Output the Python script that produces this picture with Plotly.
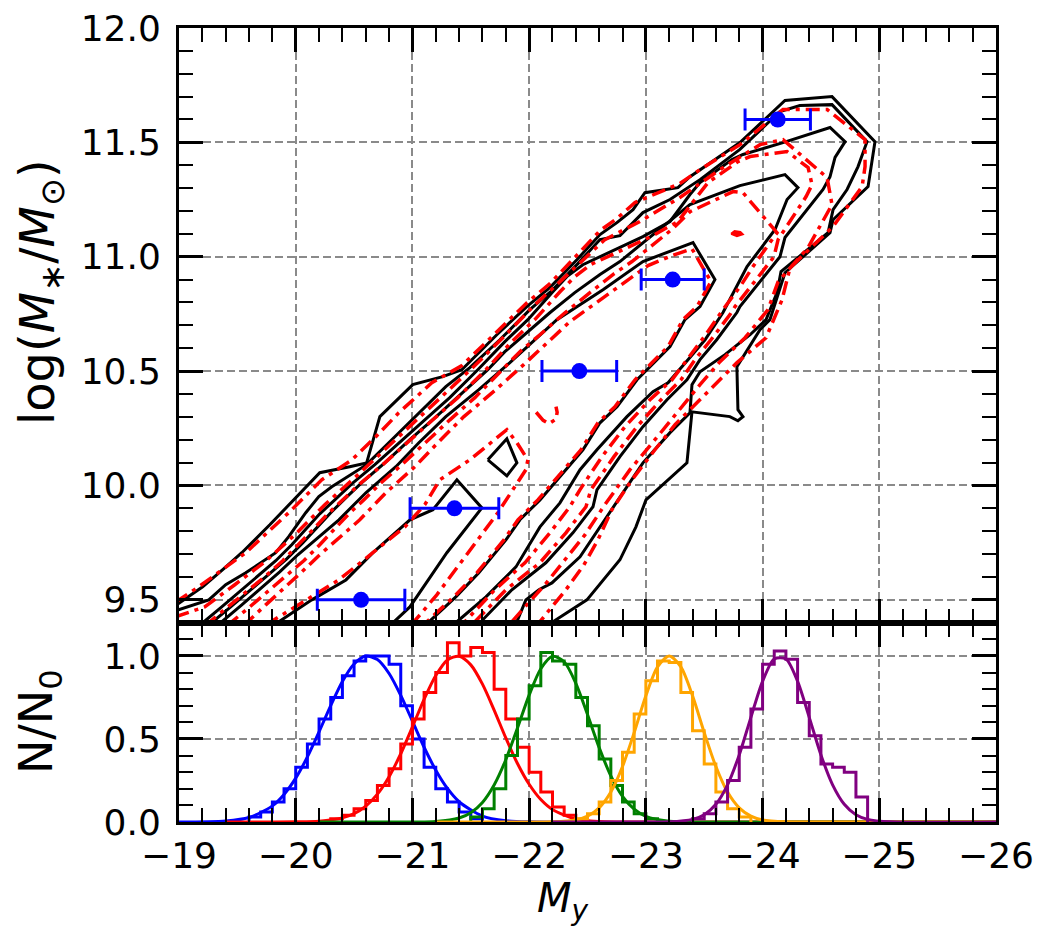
import plotly.graph_objects as go

# ---------------- top panel: contour lines ----------------
# black solid contours (outer -> inner)
b1 = [(-18.97, 9.475), (-19.203, 9.557), (-19.392, 9.640), (-19.538, 9.706), (-19.778, 9.828), (-20.009, 9.951),
      (-20.206, 10.056), (-20.463, 10.082), (-20.607, 10.098), (-20.721, 10.301), (-21.003, 10.441), (-21.260, 10.476),
      (-21.423, 10.506), (-21.723, 10.659), (-21.980, 10.782), (-22.177, 10.865), (-22.409, 10.987), (-22.607, 11.097),
      (-22.752, 11.149), (-22.890, 11.206), (-22.992, 11.280), (-23.275, 11.302), (-23.378, 11.350), (-23.806, 11.499),
      (-23.952, 11.569), (-24.192, 11.683), (-24.595, 11.700), (-24.963, 11.503), (-24.904, 11.307), (-24.604, 11.162),
      (-24.578, 11.105), (-24.192, 10.930), (-24.063, 10.725), (-23.978, 10.681), (-23.780, 10.519), (-23.789, 10.331),
      (-23.832, 10.301), (-23.789, 10.283), (-23.720, 10.301), (-23.395, 10.322), (-23.352, 10.099), (-23.001, 9.937),
      (-22.915, 9.819), (-22.778, 9.675), (-22.495, 9.500), (-22.203, 9.404), (-22.15, 9.37)]
b2 = [(-18.97, 9.452), (-19.255, 9.500), (-19.400, 9.566), (-19.572, 9.618), (-19.829, 9.706), (-19.940, 9.776),
      (-20.086, 9.881), (-20.198, 9.951), (-20.309, 9.994), (-20.607, 10.091), (-20.823, 10.200), (-21.055, 10.318),
      (-21.286, 10.432), (-21.492, 10.515), (-21.749, 10.637), (-22.006, 10.769), (-22.195, 10.852), (-22.418, 10.970),
      (-22.607, 11.075), (-22.778, 11.092), (-22.975, 11.193), (-23.207, 11.250), (-23.464, 11.337), (-23.806, 11.469),
      (-24.149, 11.635), (-24.320, 11.661), (-24.595, 11.665), (-24.895, 11.503), (-24.818, 11.394), (-24.724, 11.294),
      (-24.604, 11.206), (-24.561, 11.105), (-24.158, 10.935), (-24.124, 10.843), (-24.030, 10.725), (-23.893, 10.659),
      (-23.678, 10.572), (-23.464, 10.497), (-23.395, 10.440), (-23.378, 10.318), (-23.207, 10.231), (-22.975, 10.099),
      (-22.547, 9.776), (-22.436, 9.688), (-22.195, 9.574), (-22.084, 9.544), (-21.972, 9.500), (-21.895, 9.404),
      (-21.88, 9.37)]
b3 = [(-19.19, 9.385), (-19.213, 9.404), (-19.366, 9.469), (-19.520, 9.535), (-19.675, 9.601), (-19.829, 9.671),
      (-19.966, 9.741), (-20.078, 9.806), (-20.206, 9.876), (-20.335, 9.937), (-20.480, 10.007), (-20.678, 10.091),
      (-20.892, 10.191), (-21.106, 10.287), (-21.320, 10.384), (-21.560, 10.506), (-21.792, 10.629), (-21.989, 10.725),
      (-22.203, 10.847), (-22.323, 10.913), (-22.460, 10.965), (-22.607, 11.000), (-22.804, 11.044), (-22.975, 11.088),
      (-23.207, 11.154), (-23.378, 11.272), (-23.464, 11.324), (-23.738, 11.425), (-23.832, 11.447), (-24.175, 11.499),
      (-24.578, 11.565), (-24.707, 11.503), (-24.621, 11.434), (-24.578, 11.350), (-24.518, 11.294), (-24.192, 11.084),
      (-24.149, 11.000), (-23.806, 10.782), (-23.780, 10.756), (-23.607, 10.637), (-23.464, 10.550), (-23.352, 10.462),
      (-23.181, 10.375), (-22.975, 10.257), (-22.778, 10.126), (-22.581, 9.981), (-22.547, 9.907), (-22.375, 9.793),
      (-22.143, 9.662), (-21.852, 9.544), (-21.586, 9.404), (-21.56, 9.38)]
b4 = [(-19.27, 9.385), (-19.289, 9.404), (-19.443, 9.469), (-19.606, 9.539), (-19.760, 9.605), (-19.923, 9.679),
      (-20.060, 9.749), (-20.180, 9.815), (-20.300, 9.881), (-20.429, 9.946), (-20.566, 10.012), (-20.763, 10.099),
      (-20.978, 10.200), (-21.192, 10.296), (-21.406, 10.397), (-21.646, 10.506), (-21.792, 10.585), (-21.963, 10.659),
      (-22.177, 10.755), (-22.391, 10.843), (-22.607, 10.922), (-22.778, 10.979), (-22.975, 11.062), (-23.147, 11.132),
      (-23.378, 11.228), (-23.806, 11.311), (-24.192, 11.359), (-24.303, 11.302), (-24.210, 11.250), (-24.107, 11.119),
      (-23.867, 10.957), (-23.661, 10.756), (-23.507, 10.637), (-23.361, 10.550), (-23.190, 10.449), (-23.061, 10.410),
      (-22.838, 10.301), (-22.581, 10.156), (-22.436, 10.069), (-22.264, 9.924), (-22.093, 9.819), (-21.887, 9.644),
      (-21.630, 9.513), (-21.381, 9.404), (-21.36, 9.38)]
b5 = [(-19.34, 9.385), (-19.366, 9.404), (-19.538, 9.478), (-19.709, 9.552), (-19.863, 9.622), (-20.018, 9.697),
      (-20.198, 9.776), (-20.370, 9.850), (-20.601, 9.968), (-20.858, 10.082), (-21.055, 10.187), (-21.286, 10.301),
      (-21.569, 10.419), (-21.835, 10.537), (-22.238, 10.725), (-22.633, 10.856), (-22.975, 10.979), (-23.207, 11.022),
      (-23.404, 11.062), (-23.592, 10.900), (-23.464, 10.782), (-23.335, 10.725), (-23.207, 10.607), (-23.010, 10.506),
      (-22.924, 10.462), (-22.753, 10.344), (-22.607, 10.274), (-22.461, 10.156), (-22.238, 10.025), (-22.093, 9.937),
      (-21.921, 9.850), (-21.801, 9.762), (-21.569, 9.618), (-21.372, 9.513), (-21.141, 9.404), (-21.12, 9.38)]
b6 = [(-19.83, 9.38), (-19.855, 9.404), (-20.138, 9.500), (-20.430, 9.587), (-20.662, 9.706), (-20.979, 9.850),
      (-21.176, 9.894), (-21.381, 10.025), (-21.595, 9.902), (-21.295, 9.706), (-20.978, 9.469), (-20.841, 9.404),
      (-20.82, 9.38)]
b_island = [(-21.646, 10.112), (-21.809, 10.204), (-21.895, 10.099), (-21.809, 10.042), (-21.646, 10.112)]

# red dash-dot contours (outer -> inner)
r1 = [(-18.97, 9.49), (-19.169, 9.557), (-19.572, 9.706), (-19.940, 9.881), (-20.223, 10.025), (-20.481, 10.112),
      (-20.686, 10.213), (-20.883, 10.318), (-21.166, 10.449), (-21.424, 10.524), (-21.724, 10.672), (-21.981, 10.799),
      (-22.178, 10.882), (-22.409, 11.005), (-22.607, 11.114), (-22.752, 11.167), (-22.907, 11.237), (-23.292, 11.320),
      (-23.464, 11.381), (-23.807, 11.490), (-24.175, 11.644), (-24.553, 11.644), (-24.878, 11.512), (-24.878, 11.394),
      (-24.853, 11.307), (-24.604, 11.132), (-24.235, 10.952), (-24.167, 10.812), (-24.030, 10.646), (-23.781, 10.537),
      (-23.464, 10.375), (-23.250, 10.266), (-23.078, 10.156), (-22.881, 10.025), (-22.709, 9.894), (-22.589, 9.762),
      (-22.469, 9.653), (-22.315, 9.544), (-22.161, 9.448), (-22.092, 9.404), (-22.07, 9.38)]
r2 = [(-18.97, 9.426), (-19.220, 9.469), (-19.478, 9.566), (-19.735, 9.666), (-19.992, 9.784), (-20.249, 9.916),
      (-20.506, 10.034), (-20.763, 10.156), (-21.021, 10.279), (-21.278, 10.401), (-21.535, 10.524), (-21.792, 10.655),
      (-22.049, 10.790), (-22.264, 10.891), (-22.478, 10.996), (-22.649, 11.075), (-22.949, 11.154), (-23.292, 11.259),
      (-23.635, 11.381), (-23.978, 11.490), (-24.175, 11.512), (-24.553, 11.346), (-24.595, 11.228), (-24.390, 11.040),
      (-24.133, 10.891), (-24.047, 10.769), (-23.850, 10.646), (-23.635, 10.541), (-23.464, 10.441), (-23.292, 10.331),
      (-23.078, 10.200), (-22.864, 10.069), (-22.649, 9.916), (-22.478, 9.784), (-22.307, 9.675), (-22.135, 9.566),
      (-21.964, 9.469), (-21.852, 9.404), (-21.83, 9.38)]
r3 = [(-19.24, 9.38), (-19.263, 9.404), (-19.418, 9.469), (-19.580, 9.535), (-19.735, 9.601), (-19.889, 9.671),
      (-20.026, 9.741), (-20.146, 9.806), (-20.275, 9.876), (-20.403, 9.937), (-20.549, 10.007), (-20.746, 10.091),
      (-20.961, 10.191), (-21.175, 10.287), (-21.389, 10.384), (-21.629, 10.506), (-21.852, 10.629), (-22.049, 10.725),
      (-22.264, 10.847), (-22.392, 10.913), (-22.529, 10.966), (-22.675, 11.000), (-22.872, 11.044), (-23.044, 11.088),
      (-23.275, 11.154), (-23.447, 11.272), (-23.532, 11.324), (-23.790, 11.416), (-23.893, 11.438), (-24.210, 11.460),
      (-24.390, 11.390), (-24.424, 11.315), (-24.373, 11.263), (-24.133, 11.075), (-24.098, 11.000), (-23.764, 10.782),
      (-23.721, 10.747), (-23.558, 10.637), (-23.421, 10.550), (-23.301, 10.462), (-23.130, 10.375), (-22.924, 10.257),
      (-22.727, 10.126), (-22.529, 9.981), (-22.487, 9.907), (-22.315, 9.793), (-22.092, 9.662), (-21.801, 9.544),
      (-21.535, 9.404), (-21.51, 9.38)]
r4 = [(-19.43, 9.38), (-19.452, 9.404), (-19.606, 9.469), (-19.760, 9.535), (-19.915, 9.601), (-20.069, 9.671),
      (-20.206, 9.741), (-20.326, 9.806), (-20.455, 9.876), (-20.583, 9.937), (-20.721, 10.007), (-20.909, 10.091),
      (-21.115, 10.191), (-21.321, 10.287), (-21.535, 10.384), (-21.766, 10.506), (-21.921, 10.585), (-22.092, 10.659),
      (-22.307, 10.755), (-22.521, 10.843), (-22.718, 10.922), (-22.881, 10.979), (-23.078, 11.062), (-23.232, 11.123),
      (-23.378, 11.197), (-23.747, 11.285), (-23.832, 11.280), (-24.124, 11.105), (-24.038, 11.044), (-23.918, 10.957),
      (-23.807, 10.869), (-23.661, 10.769), (-23.507, 10.655), (-23.378, 10.567), (-23.224, 10.462), (-23.035, 10.375),
      (-22.821, 10.257), (-22.624, 10.126), (-22.435, 9.981), (-22.349, 9.907), (-22.178, 9.793), (-21.964, 9.662),
      (-21.706, 9.544), (-21.449, 9.404), (-21.43, 9.38)]
r5 = [(-19.57, 9.38), (-19.589, 9.404), (-19.743, 9.478), (-19.906, 9.552), (-20.052, 9.622), (-20.206, 9.697),
      (-20.378, 9.776), (-20.549, 9.850), (-20.772, 9.968), (-21.021, 10.082), (-21.218, 10.187), (-21.441, 10.301),
      (-21.715, 10.419), (-21.972, 10.537), (-22.349, 10.716), (-22.709, 10.847), (-23.018, 10.961), (-23.224, 11.005),
      (-23.395, 11.035), (-23.558, 10.891), (-23.438, 10.782), (-23.318, 10.725), (-23.190, 10.607), (-22.992, 10.506),
      (-22.907, 10.462), (-22.735, 10.344), (-22.589, 10.274), (-22.444, 10.156), (-22.221, 10.025), (-22.075, 9.937),
      (-21.904, 9.850), (-21.784, 9.762), (-21.552, 9.618), (-21.355, 9.513), (-21.123, 9.404), (-21.10, 9.38)]
r6 = [(-19.77, 9.38), (-19.786, 9.404), (-20.052, 9.487), (-20.369, 9.587), (-20.661, 9.706), (-20.935, 9.819),
      (-21.106, 9.916), (-21.235, 10.025), (-21.492, 10.112), (-21.809, 10.244), (-21.895, 10.187), (-21.989, 10.112),
      (-21.972, 10.069), (-21.732, 9.881), (-21.604, 9.793), (-21.466, 9.697), (-21.338, 9.609), (-21.209, 9.522),
      (-21.064, 9.434), (-21.012, 9.404), (-21.00, 9.38)]
r_hook = [(-22.06, 10.32), (-22.12, 10.285), (-22.17, 10.27), (-22.23, 10.29), (-22.24, 10.32), (-22.23, 10.345)]
r_blob = [(-23.73, 11.100), (-23.76, 11.112), (-23.81, 11.108), (-23.83, 11.098), (-23.78, 11.090), (-23.73, 11.100)]

# blue points with horizontal error bars
pt_x = [-20.56, -21.36, -22.43, -23.23, -24.13]
pt_y = [9.5, 9.9, 10.5, 10.9, 11.6]
pt_xerr = [0.375, 0.38, 0.32, 0.27, 0.28]

# ---------------- bottom panel: normalised histograms and fitted curves ----------------
blue_edges = [-19.6, -19.7, -19.8, -19.9, -20.0, -20.1, -20.2, -20.3, -20.4, -20.5, -20.6, -20.7, -20.8, -20.9,
              -21.0, -21.1, -21.2, -21.3, -21.4, -21.5, -21.6]
blue_hist = [0.03, 0.06, 0.12, 0.20, 0.33, 0.47, 0.62, 0.75, 0.88, 0.97, 1.00, 1.00, 0.95, 0.70, 0.50, 0.33, 0.20,
             0.12, 0.06, 0.02]
red_edges = [-20.3, -20.4, -20.5, -20.6, -20.7, -20.8, -20.9, -21.0, -21.1, -21.2, -21.3, -21.4, -21.5, -21.6,
             -21.7, -21.8, -21.9, -22.0, -22.1, -22.2, -22.3, -22.4, -22.5]
red_hist = [0.02, 0.04, 0.08, 0.13, 0.22, 0.32, 0.47, 0.62, 0.78, 0.90, 1.08, 1.00, 1.05, 1.02, 0.80, 0.62, 0.45,
            0.30, 0.18, 0.09, 0.04, 0.01]
green_edges = [-21.5, -21.6, -21.7, -21.8, -21.9, -22.0, -22.1, -22.2, -22.3, -22.4, -22.5, -22.6, -22.7, -22.8,
               -22.9, -23.0, -23.1]
green_hist = [0.03, 0.08, 0.20, 0.40, 0.62, 0.82, 1.02, 0.97, 0.95, 0.75, 0.58, 0.38, 0.22, 0.12, 0.05, 0.02]
orange_edges = [-22.4, -22.5, -22.6, -22.7, -22.8, -22.9, -23.0, -23.1, -23.2, -23.3, -23.4, -23.5, -23.6, -23.7,
                -23.8, -23.9]
orange_hist = [0.02, 0.05, 0.12, 0.25, 0.42, 0.65, 0.85, 0.97, 0.96, 0.78, 0.55, 0.35, 0.18, 0.08, 0.03]
purple_edges = [-23.4, -23.5, -23.6, -23.7, -23.8, -23.9, -24.0, -24.1, -24.2, -24.3, -24.4, -24.5, -24.6, -24.7,
                -24.8, -24.9]
purple_hist = [0.02, 0.05, 0.12, 0.25, 0.45, 0.68, 0.95, 1.03, 0.98, 0.72, 0.52, 0.35, 0.33, 0.30, 0.15]

blue_curve_x = [-19.0, -19.4, -19.6, -19.8, -19.9, -20.0, -20.1, -20.2, -20.3, -20.4, -20.5, -20.6, -20.7, -20.8,
                -20.9, -21.0, -21.1, -21.2, -21.3, -21.4, -21.6, -21.8, -22.0, -26.0]
blue_curve_y = [0.0, 0.006, 0.027, 0.097, 0.166, 0.264, 0.392, 0.543, 0.701, 0.846, 0.951, 0.999, 0.978, 0.894,
                0.762, 0.607, 0.450, 0.312, 0.202, 0.122, 0.036, 0.008, 0.001, 0.0]
red_curve_x = [-19.4, -20.0, -20.2, -20.4, -20.5, -20.6, -20.7, -20.8, -20.9, -21.0, -21.1, -21.2, -21.3, -21.4,
               -21.5, -21.6, -21.7, -21.8, -21.9, -22.0, -22.1, -22.2, -22.4, -22.6, -23.0, -26.0]
red_curve_y = [0.0, 0.001, 0.005, 0.025, 0.050, 0.096, 0.168, 0.273, 0.411, 0.573, 0.739, 0.882, 0.976, 0.998,
               0.946, 0.830, 0.674, 0.506, 0.352, 0.227, 0.135, 0.075, 0.018, 0.003, 0.0, 0.0]
green_curve_x = [-20.2, -21.0, -21.2, -21.4, -21.5, -21.6, -21.7, -21.8, -21.9, -22.0, -22.1, -22.2, -22.3, -22.4,
                 -22.5, -22.6, -22.7, -22.8, -22.9, -23.0, -23.2, -23.5, -26.0]
green_curve_y = [0.0, 0.0, 0.003, 0.024, 0.056, 0.118, 0.223, 0.375, 0.566, 0.764, 0.923, 0.998, 0.965, 0.835,
                 0.647, 0.448, 0.278, 0.154, 0.077, 0.034, 0.005, 0.0, 0.0]
orange_curve_x = [-21.2, -22.0, -22.2, -22.4, -22.5, -22.6, -22.7, -22.8, -22.9, -23.0, -23.1, -23.2, -23.3, -23.4,
                  -23.5, -23.6, -23.7, -23.8, -23.9, -24.0, -24.2, -24.5, -26.0]
orange_curve_y = [0.0, 0.0, 0.001, 0.012, 0.035, 0.085, 0.180, 0.334, 0.539, 0.760, 0.934, 1.0, 0.934, 0.760,
                  0.539, 0.334, 0.180, 0.085, 0.035, 0.012, 0.001, 0.0, 0.0]
purple_curve_x = [-22.2, -23.0, -23.2, -23.4, -23.5, -23.6, -23.7, -23.8, -23.9, -24.0, -24.1, -24.2, -24.3, -24.4,
                  -24.5, -24.6, -24.7, -24.8, -24.9, -25.1, -26.0]
purple_curve_y = [0.0, 0.0, 0.001, 0.016, 0.044, 0.107, 0.224, 0.404, 0.630, 0.847, 0.982, 0.982, 0.847, 0.630,
                  0.404, 0.224, 0.107, 0.044, 0.016, 0.001, 0.0]

x_ticks = [-19, -20, -21, -22, -23, -24, -25, -26]

# ---------------- build figure ----------------
fig = go.Figure()

BLACK_W = 3
RED_W = 3.5
RED_DASH = "14px,6px,4px,6px"


def add_line(pts, color, width, dash=None, fill=None):
    xs, ys = zip(*pts)
    fig.add_trace(go.Scatter(x=list(xs), y=list(ys), mode="lines", xaxis="x", yaxis="y",
                             line=dict(color=color, width=width, dash=dash),
                             fill=fill, fillcolor=color if fill else None,
                             hoverinfo="skip", showlegend=False))


for c in [b1, b2, b3, b4, b5, b6, b_island]:
    add_line(c, "black", BLACK_W)
for c in [r1, r2, r3, r4, r5, r6, r_hook]:
    add_line(c, "red", RED_W, dash=RED_DASH)
add_line(r_blob, "red", 2, fill="toself")

fig.add_trace(go.Scatter(x=pt_x, y=pt_y, mode="markers", xaxis="x", yaxis="y",
                         marker=dict(color="blue", size=16),
                         error_x=dict(type="data", array=pt_xerr, color="blue", thickness=3, width=11),
                         showlegend=False))


def step_xy(edges, vals):
    xs = [edges[0]] + list(edges[:-1]) + [edges[-1]]
    ys = [0.0] + list(vals) + [0.0]
    return xs, ys


groups = [
    ("#0000ff", blue_edges, blue_hist, blue_curve_x, blue_curve_y),
    ("#ff0000", red_edges, red_hist, red_curve_x, red_curve_y),
    ("#008000", green_edges, green_hist, green_curve_x, green_curve_y),
    ("#ffa500", orange_edges, orange_hist, orange_curve_x, orange_curve_y),
    ("#800080", purple_edges, purple_hist, purple_curve_x, purple_curve_y),
]
for color, edges, vals, cx, cy in groups:
    hx, hy = step_xy(edges, vals)
    fig.add_trace(go.Scatter(x=hx, y=hy, mode="lines", xaxis="x2", yaxis="y2",
                             line=dict(color=color, width=3, shape="hv"), showlegend=False))
    fig.add_trace(go.Scatter(x=cx, y=cy, mode="lines", xaxis="x2", yaxis="y2",
                             line=dict(color=color, width=3, shape="spline", smoothing=0.8), showlegend=False))

TICKFONT = dict(family="DejaVu Sans", size=36, color="black")
common = dict(showline=True, linecolor="black", linewidth=3, mirror="allticks",
              ticks="inside", ticklen=24, tickwidth=3, tickcolor="black",
              showgrid=True, gridcolor="#8a8a8a", gridwidth=2, griddash="8px,4px",
              zeroline=False, tickfont=TICKFONT, layer="above traces", ticklabeloverflow="allow")


def minor(dt):
    return dict(dtick=dt, ticks="inside", ticklen=14, tickwidth=2, tickcolor="black", showgrid=False)


D = 0.251
# the page body adds an 8px offset, so the figure is 8px smaller than the window
fig.update_layout(
    width=1034, height=919,
    margin=dict(l=171, r=46, t=20, b=105, autoexpand=False),
    paper_bgcolor="white", plot_bgcolor="white",
    showlegend=False,
    font=dict(family="DejaVu Sans", color="black"),
    xaxis=dict(common, domain=[0, 1], anchor="y", range=[-19, -26], tickvals=x_ticks,
               showticklabels=False, matches="x2", minor=minor(0.2)),
    yaxis=dict(common, domain=[D, 1], anchor="x", range=[9.4, 12.0], dtick=0.5, tick0=0,
               tickformat=".1f", minor=minor(0.1), ticklabelstandoff=8),
    xaxis2=dict(common, domain=[0, 1], anchor="y2", range=[-19, -26], tickvals=x_ticks,
                minor=minor(0.2), ticklabelstandoff=0),
    yaxis2=dict(common, domain=[0, D], anchor="x2", range=[0, 1.2], dtick=0.5, tick0=0,
                tickformat=".1f", minor=minor(0.1), ticklabelstandoff=8),
)

fig.add_annotation(text="log(<i>M</i><sub>∗</sub>/<i>M</i><sub>⊙</sub>)", xref="paper", yref="paper",
                   x=-0.170, y=0.6675, textangle=-90, showarrow=False,
                   font=dict(family="DejaVu Sans", size=48, color="black"),
                   xanchor="center", yanchor="middle")
fig.add_annotation(text="N/N<sub>0</sub>", xref="paper", yref="paper",
                   x=-0.170, y=0.126, textangle=-90, showarrow=False,
                   font=dict(family="DejaVu Sans", size=46, color="black"),
                   xanchor="center", yanchor="middle")
fig.add_annotation(text="<i>M</i><sub><i>y</i></sub>", xref="paper", yref="paper",
                   x=0.470, y=-0.099, showarrow=False,
                   font=dict(family="DejaVu Sans", size=40, color="black"),
                   xanchor="center", yanchor="middle")

fig.write_html("out.html")
